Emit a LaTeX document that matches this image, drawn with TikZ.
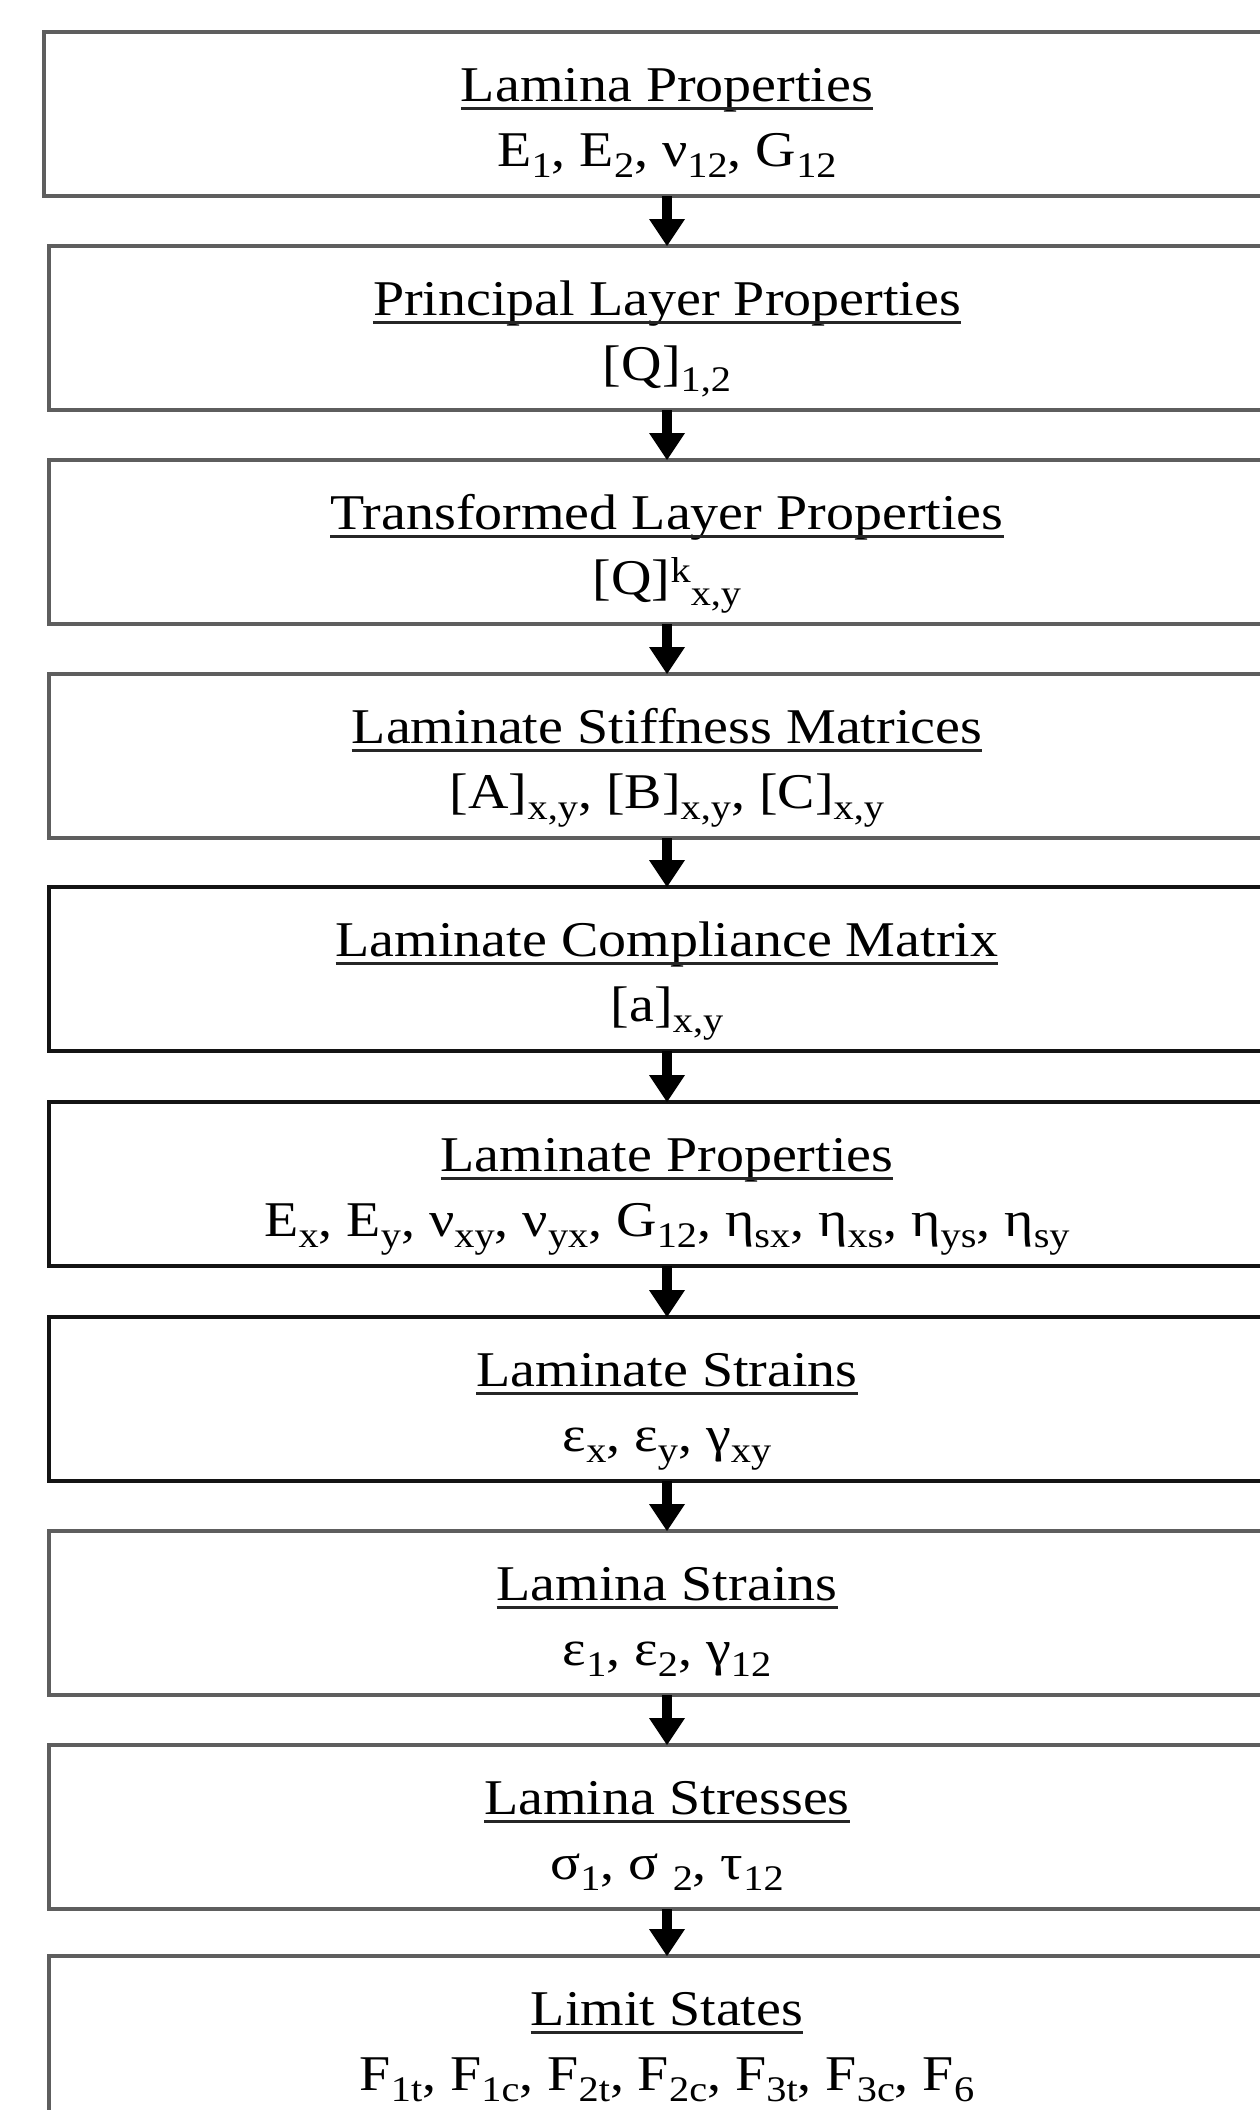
\documentclass[tikz,border=0pt]{standalone}
\usepackage{fontspec}
\setmainfont[FakeStretch=1.12]{Liberation Serif}
\usetikzlibrary{arrows.meta}
\newcommand\mysub[1]{\raisebox{-11pt}{\fontsize{36}{40}\selectfont #1}}
\newcommand\mysup[1]{\raisebox{12pt}{\fontsize{36}{40}\selectfont #1}}
\definecolor{boxgray}{HTML}{5E5E5E}
\definecolor{boxdark}{HTML}{141414}
\begin{document}
\begin{tikzpicture}[x=1pt,y=-1pt,
  stagebox/.style={draw=#1, line width=4pt, rectangle, minimum height=164pt,
    minimum width=1236pt, outer sep=0pt, inner sep=0pt, anchor=north west},
  txt/.style={anchor=base, inner sep=0pt, font=\fontsize{50}{60}\selectfont},
  uline/.style={line width=3pt, draw=black!85},
  flow/.style={line width=10pt, -{Triangle[length=27pt,width=36pt,line width=0pt]}}]
\useasboundingbox (0,0) rectangle (1260,2110);
\fill[white] (0,0) rectangle (1260,2110);
% boxes
\node[stagebox=boxgray, minimum width=1246pt] (b1) at (44,32) {};
\node[stagebox=boxgray] (b2) at (49,246) {};
\node[stagebox=boxgray] (b3) at (49,460) {};
\node[stagebox=boxgray] (b4) at (49,674) {};
\node[stagebox=boxdark] (b5) at (49,887) {};
\node[stagebox=boxdark] (b6) at (49,1102) {};
\node[stagebox=boxdark] (b7) at (49,1317) {};
\node[stagebox=boxgray] (b8) at (49,1531) {};
\node[stagebox=boxgray] (b9) at (49,1745) {};
\node[stagebox=boxgray] (b10) at (49,1956) {};
% titles and contents
\node[txt] (t1) at ([yshift=-69pt]b1.north) {Lamina Properties};
\node[txt] (s1) at ([yshift=-134pt]b1.north) {E\mysub{1}, E\mysub{2}, ν\mysub{12}, G\mysub{12}};
\node[txt] (t2) at ([yshift=-69pt]b2.north) {Principal Layer Properties};
\node[txt] (s2) at ([yshift=-134pt]b2.north) {[Q]\mysub{1,2}};
\node[txt] (t3) at ([yshift=-69pt]b3.north) {Transformed Layer Properties};
\node[txt] (s3) at ([yshift=-134pt]b3.north) {[Q]\mysup{k}\mysub{x,y}};
\node[txt] (t4) at ([yshift=-69pt]b4.north) {Laminate Stiffness Matrices};
\node[txt] (s4) at ([yshift=-134pt]b4.north) {[A]\mysub{x,y}, [B]\mysub{x,y}, [C]\mysub{x,y}};
\node[txt] (t5) at ([yshift=-69pt]b5.north) {Laminate Compliance Matrix};
\node[txt] (s5) at ([yshift=-134pt]b5.north) {[a]\mysub{x,y}};
\node[txt] (t6) at ([yshift=-69pt]b6.north) {Laminate Properties};
\node[txt] (s6) at ([yshift=-134pt]b6.north) {E\mysub{x}, E\mysub{y}, ν\mysub{xy}, ν\mysub{yx}, G\mysub{12}, η\mysub{sx}, η\mysub{xs}, η\mysub{ys}, η\mysub{sy}};
\node[txt] (t7) at ([yshift=-69pt]b7.north) {Laminate Strains};
\node[txt] (s7) at ([yshift=-134pt]b7.north) {ε\mysub{x}, ε\mysub{y}, γ\mysub{xy}};
\node[txt] (t8) at ([yshift=-69pt]b8.north) {Lamina Strains};
\node[txt] (s8) at ([yshift=-134pt]b8.north) {ε\mysub{1}, ε\mysub{2}, γ\mysub{12}};
\node[txt] (t9) at ([yshift=-69pt]b9.north) {Lamina Stresses};
\node[txt] (s9) at ([yshift=-134pt]b9.north) {σ\mysub{1}, σ \mysub{2}, τ\mysub{12}};
\node[txt] (t10) at ([yshift=-69pt]b10.north) {Limit States};
\node[txt] (s10) at ([yshift=-134pt]b10.north) {F\mysub{1t}, F\mysub{1c}, F\mysub{2t}, F\mysub{2c}, F\mysub{3t}, F\mysub{3c}, F\mysub{6}};
% underlines of the titles
\foreach \t in {t1,t2,t3,t4,t5,t6,t7,t8,t9,t10}
  \draw[uline] ([yshift=-7pt]\t.base west) -- ([yshift=-7pt]\t.base east);
% arrows
\draw[flow] (b1.south) -- (b2.north);
\draw[flow] (b2.south) -- (b3.north);
\draw[flow] (b3.south) -- (b4.north);
\draw[flow] (b4.south) -- (b5.north);
\draw[flow] (b5.south) -- (b6.north);
\draw[flow] (b6.south) -- (b7.north);
\draw[flow] (b7.south) -- (b8.north);
\draw[flow] (b8.south) -- (b9.north);
\draw[flow] (b9.south) -- (b10.north);
\end{tikzpicture}
\end{document}
